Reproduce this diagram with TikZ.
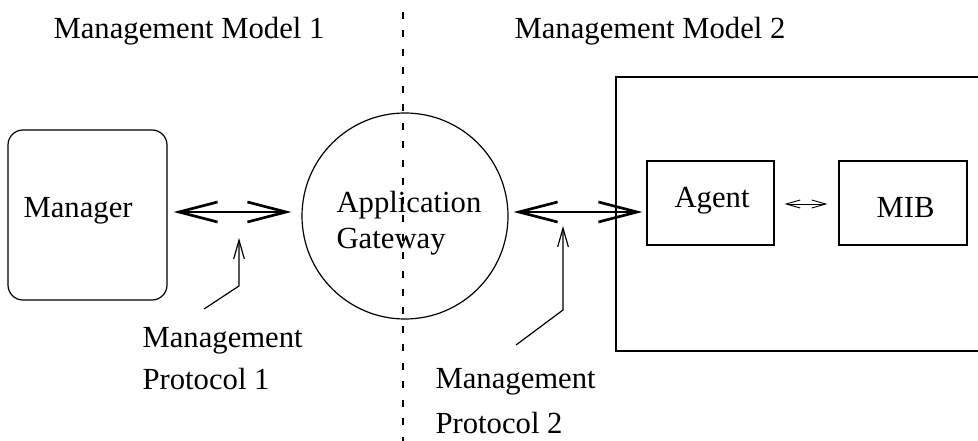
\documentclass[tikz,border=0pt]{standalone}
\usepackage{fontspec}
\setmainfont{Liberation Serif}
\usetikzlibrary{arrows.meta}
\begin{document}
\begin{tikzpicture}[x=0.75pt,y=-0.75pt,
  line width=0.9pt,
  lbl/.style={anchor=base west,inner sep=0pt,font=\fontsize{23}{27}\selectfont},
  shapebox/.style={draw,inner sep=0pt},
  bigtip/.style={{Straight Barb[length=29pt,width=15pt,line width=2pt]}},
  bigarrow/.style={line width=1.5pt,line join=miter,
    {Straight Barb[length=29pt,width=15pt,line width=2pt]}-{Straight Barb[length=29pt,width=15pt,line width=2pt]}},
  smallarrow/.style={line width=0.7pt,
    {Straight Barb[length=10.5pt,width=6pt,line width=0.7pt]}-{Straight Barb[length=10.5pt,width=6pt,line width=0.7pt]}},
  pointer/.style={line width=0.9pt,-{Straight Barb[length=14pt,width=8pt,line width=0.9pt]}},
  divider/.style={line width=1pt,dash pattern=on 5.25pt off 8.6pt}]
\useasboundingbox (0,0) rectangle (978,441);
\clip (0,0) rectangle (978,441);

% headings
\node[lbl] (model1) at (53,39) {Management Model 1};
\node[lbl] (model2) at (514,39) {Management Model 2};

% dividing line between the two models
\coordinate (divtop) at (403,12);
\coordinate (divbot) at (403,441);
\draw[divider] (divtop) -- (divbot);

% manager
\node[shapebox,rounded corners=11.25pt,minimum width=119.25pt,minimum height=127.5pt] (mgr) at (87.5,215) {};
\node[lbl] (mgrtxt) at (23,218) {Manager};

% gateway
\node[shapebox,circle,minimum size=154.5pt] (gw) at (405,216) {};
\node[lbl] (gwtxt1) at (336,213) {Application};
\node[lbl] (gwtxt2) at (336,249) {Gateway};

% managed system
\draw (990,77) -- (616,77) -- (616,351) -- (990,351);
\node[shapebox,minimum width=95.25pt,minimum height=63pt] (agent) at (710.5,203) {};
\node[lbl] (agenttxt) at (674,208) {Agent};
\node[shapebox,minimum width=96pt,minimum height=63pt] (mib) at (903,203) {};
\node[lbl] (mibtxt) at (876,218) {MIB};

% protocol links
\draw[bigarrow,shorten <=4.5pt,shorten >=7.5pt] (mgr.east |- 0,212) -- (gw.west |- 0,212);
\draw[bigarrow,shorten <=3.75pt,shorten >=3pt] (gw.east |- 0,212) -- (agent.west |- 0,212);
\draw[smallarrow,shorten <=7.5pt,shorten >=8.25pt] (agent.east |- 0,204) -- (mib.west |- 0,204);

% protocol labels and pointers
\node[lbl] (p1a) at (142,348) {Management};
\node[lbl] (p1b) at (142,390) {Protocol 1};
\coordinate (p1foot) at (204,309);
\coordinate (p1knee) at (239,286);
\coordinate (p1tip) at (239,238);
\draw[pointer] (p1foot) -- (p1knee) -- (p1tip);

\node[lbl] (p2a) at (435,388) {Management};
\node[lbl] (p2b) at (435,433) {Protocol 2};
\coordinate (p2foot) at (516,345);
\coordinate (p2knee) at (563,310);
\coordinate (p2tip) at (563,226);
\draw[pointer] (p2foot) -- (p2knee) -- (p2tip);
\end{tikzpicture}
\end{document}
